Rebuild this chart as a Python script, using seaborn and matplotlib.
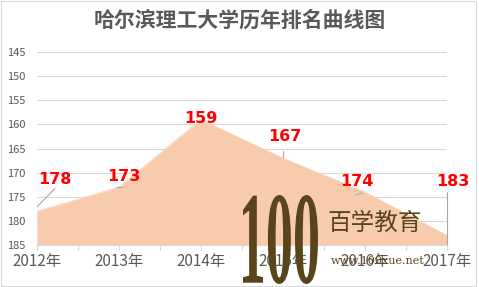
import matplotlib
matplotlib.use("Agg")
import matplotlib.pyplot as plt
import pandas as pd
import seaborn as sns
from matplotlib.font_manager import FontProperties
from matplotlib.patches import PathPatch, Rectangle
from matplotlib.textpath import TextPath
from matplotlib.transforms import Affine2D

# --- Data --------------------------------------------------------------------
years = ["2012年", "2013年", "2014年", "2015年", "2016年", "2017年"]
ranks = [178, 173, 159, 167, 174, 183]
y_ticks = [145, 150, 155, 160, 165, 170, 175, 180, 185]

df = pd.DataFrame({"year": years, "rank": ranks})
df["pos"] = range(len(years))

# --- Style -------------------------------------------------------------------
sns.set_style("white")
plt.rcParams["font.family"] = ["Noto Sans CJK SC", "DejaVu Sans"]

W, H = 479, 287
fig = plt.figure(figsize=(W / 100, H / 100), dpi=100)
ax = fig.add_axes([0.077, 0.146, 0.856, 0.673])

fill_color = "#F8CBAD"
grid_color = "#D9D9D9"
text_color = "#595959"
leader = "#A6A6A6"

# area from the line down to the axis floor (185, axis is inverted)
sns.lineplot(data=df, x="pos", y="rank", ax=ax, color=fill_color, linewidth=0.5)
ax.fill_between(df["pos"], df["rank"], y_ticks[-1], color=fill_color, linewidth=0)

ax.set_ylim(y_ticks[-1], y_ticks[0])
ax.set_xlim(0, len(years) - 1)
ax.set_yticks(y_ticks)
ax.set_xticks(df["pos"])
ax.set_xticklabels(years, fontsize=11, color=text_color)
ax.tick_params(axis="y", labelsize=8, colors=text_color, length=0, pad=8)
ax.tick_params(axis="x", length=0, pad=6)
ax.yaxis.grid(True, color=grid_color, linewidth=0.8)
ax.set_axisbelow(True)
for s in ["top", "right", "left"]:
    ax.spines[s].set_visible(False)
ax.spines["bottom"].set_color(grid_color)
ax.set_xlabel("")
ax.set_ylabel("")

# small tick marks under the category axis (at years and midpoints)
for p in [i * 0.5 for i in range(2 * len(years) - 1)]:
    ax.plot([p, p], [185, 186], color=grid_color, linewidth=0.8, clip_on=False)

# data labels
label_pos = [(0.22, 171.5), (1.06, 170.7), (2.0, 158.7), (3.02, 162.6), (3.9, 171.9), (5.07, 171.9)]
for (x, y), r in zip(label_pos, df["rank"]):
    ax.text(x, y, str(r), color="#FF0000", fontsize=11.5, fontweight="bold",
            ha="center", va="center", family="DejaVu Sans")

# leader lines
ax.plot([0, 0.22], [177.1, 173.3], color=leader, linewidth=0.8)
ax.plot([0.97, 1.04], [173.0, 173.0], color=leader, linewidth=0.8)
ax.plot([3.0, 3.0], [165.6, 167.0], color=leader, linewidth=0.8)
ax.plot([3.89, 3.97], [174.6, 174.2], color=leader, linewidth=0.8)
ax.plot([5.0, 5.0], [174.0, 185.0], color=leader, linewidth=0.8, clip_on=False)

# title
fig.text(0.5, 0.93, "哈尔滨理工大学历年排名曲线图", ha="center", va="center",
         fontsize=15, fontweight="bold", color=text_color)

# watermark logo: tall narrow "100" squeezed into its box (pixel coords)
brown = "#5A4419"
logo = TextPath((0, 0), "100", size=10,
                prop=FontProperties(family="Liberation Serif", weight="bold"))
ext = logo.get_extents()
x0, x1, y_top, y_bot = 243, 318, 195, 284
sx = (x1 - x0) / ext.width / W
sy = (y_bot - y_top) / ext.height / H
tr = (Affine2D().translate(-ext.x0, -ext.y0).scale(sx, sy)
      .translate(x0 / W, 1 - y_bot / H) + fig.transFigure)
fig.patches.append(PathPatch(logo, transform=tr, facecolor=brown, edgecolor="none", zorder=5))

fig.text(0.683, 0.223, "百学教育", fontsize=17, color=brown, ha="left", va="center", zorder=5)
fig.text(0.69, 0.09, "www.100xue.net", fontsize=8, color=brown, family="DejaVu Serif",
         ha="left", va="center", zorder=5)

# chart border
fig.patches.append(Rectangle((0.002, 0.005), 0.992, 0.99, transform=fig.transFigure,
                             fill=False, edgecolor=grid_color, linewidth=0.8))

fig.savefig("out.png", dpi=100)
plt.close(fig)
